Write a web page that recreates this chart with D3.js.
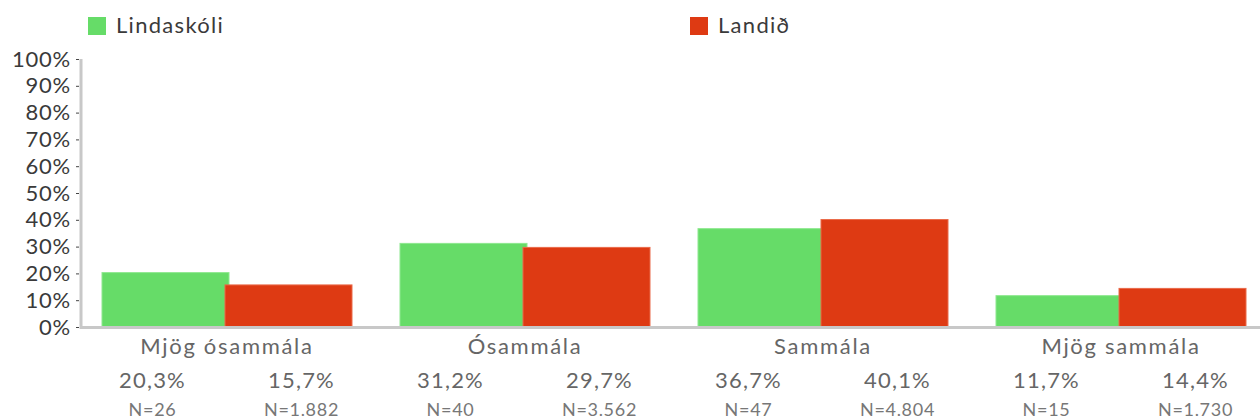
<!DOCTYPE html>
<html>
<head>
<meta charset="utf-8">
<script src="https://cdn.jsdelivr.net/npm/d3@7/dist/d3.min.js"></script>
<style>
  body { margin: 0; background: #fff; }
  svg { font-family: Lato, "Open Sans", sans-serif; }
</style>
</head>
<body>
<svg id="chart" width="1260" height="420"></svg>
<script>
'use strict';

var categories = ['Mjög ósammála', 'Ósammála', 'Sammála', 'Mjög sammála'];
var series = ['Lindaskóli', 'Landið'];
var schoolValues = [20.3, 31.2, 36.7, 11.7];
var countryValues = [15.7, 29.7, 40.1, 14.4];
var schoolN = ['26', '40', '47', '15'];
var countryN = ['1.882', '3.562', '4.804', '1.730'];
var yTicks = [0, 10, 20, 30, 40, 50, 60, 70, 80, 90, 100];
var colors = ['#66dc68', '#de3a13'];

var svg = d3.select('#chart');

var x = d3.scaleBand().domain(categories).range([78, 1270]);
var x1 = d3.scaleBand().domain(series).range([-125, 125]);
var y = d3.scaleLinear().domain([0, 100]).range([327, 59]);

var fmt = function(v) { return v.toFixed(1).replace('.', ',') + '%'; };

// build rows from the arrays
var rows = categories.map(function(c, i) {
  return {
    cat: c,
    vals: [
      { s: series[0], v: schoolValues[i], n: schoolN[i], k: 0 },
      { s: series[1], v: countryValues[i], n: countryN[i], k: 1 }
    ]
  };
});

// bars
var groups = svg.selectAll('g.grp')
  .data(rows)
  .enter().append('g')
  .attr('class', 'grp')
  .attr('transform', function(d) { return 'translate(' + (x(d.cat) + x.bandwidth() / 2) + ',0)'; });

groups.selectAll('rect')
  .data(function(d) { return d.vals; })
  .enter().append('rect')
  .attr('x', function(d) { return x1(d.s) - (d.k === 1 ? 2 : 0); })
  .attr('y', function(d) { return y(d.v); })
  .attr('width', x1.bandwidth() + 2)
  .attr('height', function(d) { return y(0) - y(d.v) + 1; })
  .attr('fill', function(d) { return colors[d.k]; })
  .attr('stroke', function(d) { return d.k === 0 ? '#8ee88f' : '#ea6a4a'; })
  .attr('stroke-width', 1);

// x baseline
svg.append('line')
  .attr('x1', 80).attr('x2', 1260)
  .attr('y1', y(0) + 0.5).attr('y2', y(0) + 0.5)
  .attr('stroke', '#c8c8c8')
  .attr('stroke-width', 3);

// y axis
var yAxis = d3.axisLeft(y)
  .tickValues(yTicks)
  .tickFormat(function(d) { return d + '%'; })
  .tickSize(5)
  .tickPadding(6);

var ya = svg.append('g')
  .attr('transform', 'translate(81,0)')
  .call(yAxis);

ya.attr('font-family', null);
ya.select('.domain')
  .attr('d', 'M0,' + y(100) + 'V' + (y(0) + 2))
  .attr('stroke', '#c8c8c8')
  .attr('stroke-width', 3);
ya.selectAll('.tick line').attr('stroke', '#444').attr('stroke-width', 1).attr('x1', -2);
ya.selectAll('.tick text')
  .attr('fill', '#3a3a3a')
  .attr('dx', 1)
  .style('letter-spacing', '0.8px')
  .style('font-size', '22px');

// category labels
svg.selectAll('text.cat')
  .data(categories)
  .enter().append('text')
  .attr('class', 'cat')
  .attr('x', function(d) { return x(d) + x.bandwidth() / 2; })
  .attr('y', 354)
  .attr('text-anchor', 'middle')
  .attr('fill', '#666')
  .style('letter-spacing', '1.7px')
  .style('font-size', '22px')
  .text(function(d) { return d; });

// value and N labels under each group
var sub = groups.selectAll('g.sub')
  .data(function(d) { return d.vals; })
  .enter().append('g')
  .attr('class', 'sub')
  .attr('transform', function(d) { return 'translate(' + (d.k === 0 ? -x.bandwidth() / 4 : x.bandwidth() / 4) + ',0)'; });

sub.append('text')
  .attr('y', 388)
  .attr('text-anchor', 'middle')
  .attr('fill', '#666')
  .style('letter-spacing', '1.2px')
  .style('font-size', '22px')
  .text(function(d) { return fmt(d.v); });

sub.append('text')
  .attr('y', 416)
  .attr('text-anchor', 'middle')
  .attr('fill', '#777')
  .style('letter-spacing', '0.7px')
  .style('font-size', '18px')
  .text(function(d) { return 'N=' + d.n; });

// legend
var legendX = [88, 690];
var legend = svg.selectAll('g.leg')
  .data(series)
  .enter().append('g')
  .attr('class', 'leg')
  .attr('transform', function(d, i) { return 'translate(' + legendX[i] + ',17)'; });

legend.append('rect')
  .attr('width', 18).attr('height', 18)
  .attr('fill', function(d, i) { return colors[i]; });

legend.append('text')
  .attr('x', 28)
  .attr('y', 16)
  .attr('fill', '#3a3a3a')
  .style('letter-spacing', '1.3px')
  .style('font-size', '22px')
  .text(function(d) { return d; });
</script>
</body>
</html>
